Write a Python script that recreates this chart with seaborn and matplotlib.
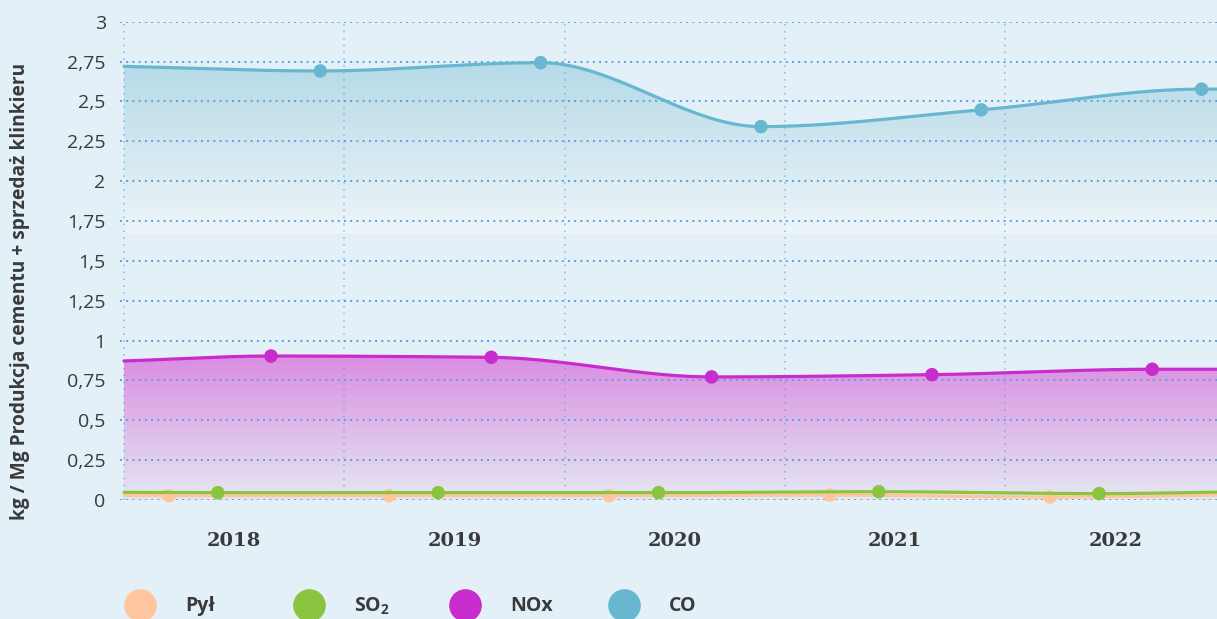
import numpy as np
import pandas as pd
import matplotlib
matplotlib.use("Agg")
import matplotlib.pyplot as plt
import seaborn as sns
from matplotlib.lines import Line2D

# ---------------- data ----------------
years = ["2018", "2019", "2020", "2021", "2022"]
series_names = ["Pył", "SO₂", "NOx", "CO"]
pyl = [0.027, 0.027, 0.027, 0.031, 0.019]
so2 = [0.046, 0.046, 0.046, 0.052, 0.040]
nox = [0.903, 0.895, 0.772, 0.786, 0.820]
co = [2.691, 2.743, 2.342, 2.447, 2.577]
# where each line meets the left / right edge of the visible window
pyl_edges = [0.028, 0.030]
so2_edges = [0.048, 0.049]
nox_edges = [0.872, 0.820]
co_edges = [2.720, 2.577]
y_ticks = [0, 0.25, 0.5, 0.75, 1, 1.25, 1.5, 1.75, 2, 2.25, 2.5, 2.75, 3]
y_tick_labels = ["0", "0,25", "0,5", "0,75", "1", "1,25", "1,5", "1,75",
                 "2", "2,25", "2,5", "2,75", "3"]
y_label = "kg / Mg Produkcja cementu + sprzedaż klinkieru"

# ---------------- style / layout ----------------
BG = "#e3f0f7"
TEXT = "#3a3a3a"
GRID = "#5d9fdb"
COLORS = {"Pył": "#ffc69e", "SO₂": "#8bc43f", "NOx": "#c92ccc", "CO": "#67b7d1"}
OFFSETS = {"Pył": 0.203, "SO₂": 0.426, "NOx": 0.667, "CO": 0.891}
X_MIN, X_MAX = -0.02, 4.961
W, H = 1217, 619

sns.set_theme(style="white")
plt.rcParams["font.family"] = ["Open Sans", "DejaVu Sans"]
plt.rcParams["mathtext.fontset"] = "custom"
plt.rcParams["mathtext.rm"] = "Open Sans"
plt.rcParams["mathtext.bf"] = "Open Sans:bold"


def pchip(xs, ys, xq):
    xs = np.asarray(xs, float)
    ys = np.asarray(ys, float)
    h = np.diff(xs)
    d = np.diff(ys) / h
    n = len(xs)
    m = np.zeros(n)
    m[0], m[-1] = d[0], d[-1]
    for k in range(1, n - 1):
        if d[k - 1] * d[k] <= 0:
            m[k] = 0.0
        else:
            w1 = 2 * h[k] + h[k - 1]
            w2 = h[k] + 2 * h[k - 1]
            m[k] = (w1 + w2) / (w1 / d[k - 1] + w2 / d[k])
    idx = np.clip(np.searchsorted(xs, xq) - 1, 0, n - 2)
    t = (xq - xs[idx]) / h[idx]
    h00 = 2 * t**3 - 3 * t**2 + 1
    h10 = t**3 - 2 * t**2 + t
    h01 = -2 * t**3 + 3 * t**2
    h11 = t**3 - t**2
    return (h00 * ys[idx] + h10 * h[idx] * m[idx]
            + h01 * ys[idx + 1] + h11 * h[idx] * m[idx + 1])


values = {"Pył": pyl, "SO₂": so2, "NOx": nox, "CO": co}
edges = {"Pył": pyl_edges, "SO₂": so2_edges, "NOx": nox_edges, "CO": co_edges}

curves = {}
points = {}
for name in series_names:
    px = np.arange(len(years)) + OFFSETS[name]
    py = np.asarray(values[name], float)
    ax_nodes = np.concatenate([[0.0], px, [X_MAX]])
    ay_nodes = np.concatenate([[edges[name][0]], py, [edges[name][1]]])
    xq = np.linspace(0.0, X_MAX, 800)
    curves[name] = (xq, pchip(ax_nodes, ay_nodes, xq))
    points[name] = (px, py)

fig = plt.figure(figsize=(W / 100, H / 100), dpi=100, facecolor=BG)
left_px = 124 + X_MIN * 220.3
ax = fig.add_axes([left_px / W, (H - 500) / H, (W - left_px) / W, (500 - 21.7) / H])
ax.set_facecolor(BG)


def gradient_fill(x, y, base, top_rgb, bot_rgb, zorder=1):
    poly = ax.fill_between(x, y, base, facecolor="none", edgecolor="none")
    top = max(y)
    n = 256
    tr = np.array(matplotlib.colors.to_rgb(top_rgb))
    br = np.array(matplotlib.colors.to_rgb(bot_rgb))
    t = np.linspace(0, 1, n)[:, None]
    arr = (tr * (1 - t) + br * t)[:, None, :]
    im = ax.imshow(arr, extent=[x.min(), x.max(), base, top], aspect="auto",
                   origin="upper", zorder=zorder, interpolation="bilinear")
    im.set_clip_path(poly.get_paths()[0], transform=ax.transData)


gradient_fill(*curves["CO"], 1.67, "#b5dae8", "#eef5f9")
gradient_fill(*curves["NOx"], 0.0, "#da8de2", "#e4e8f2")

for i, name in enumerate(series_names):
    cx, cy = curves[name]
    df_line = pd.DataFrame({"x": cx, "y": cy})
    sns.lineplot(data=df_line, x="x", y="y", color=COLORS[name], linewidth=2.3,
                 sort=False, estimator=None, ax=ax, zorder=3 + i * 0.1)
    px, py = points[name]
    df_pts = pd.DataFrame({"x": px, "y": py})
    sns.scatterplot(data=df_pts, x="x", y="y", color=COLORS[name], s=95,
                    edgecolor="none", ax=ax, zorder=3.05 + i * 0.1, clip_on=False)

ax.set_xlim(X_MIN, X_MAX)
ax.set_ylim(0, 3)
ax.set_xlabel("")
ax.set_ylabel("")
for s in ax.spines.values():
    s.set_visible(False)

ax.set_yticks(y_ticks)
ax.set_yticklabels(y_tick_labels, fontsize=14, color=TEXT)
ax.set_xticks(np.arange(len(years)) + 0.5)
ax.set_xticklabels(years, fontsize=14, color=TEXT, fontfamily="DejaVu Serif",
                   fontweight="bold")
ax.set_xticks(np.arange(len(years)), minor=True)
ax.tick_params(axis="both", which="both", length=0)
ax.tick_params(axis="y", pad=10)
ax.tick_params(axis="x", pad=23)
ax.set_axisbelow(False)
ax.yaxis.grid(True, color=GRID, linestyle=(0, (1, 2.2)), linewidth=1.4, zorder=2.5)
ax.xaxis.grid(False, which="major")
ax.xaxis.grid(True, which="minor", color=GRID, alpha=0.7,
              linestyle=(0, (1, 3.5)), linewidth=1.1)

fig.text(20 / W, 1 - 291 / H, y_label, rotation=90, ha="center", va="center",
         fontsize=13.8, fontweight="bold", color=TEXT)

# legend
legend_x = [140, 309, 465, 624]
legend_labels = ["Pył", r"SO$_{\mathbf{2}}$", "NOx", "CO"]
for name, lx, lab in zip(series_names, legend_x, legend_labels):
    fig.add_artist(Line2D([lx / W], [1 - 605 / H], marker="o", markersize=23.5,
                          color=COLORS[name], markeredgewidth=0, linestyle="none",
                          transform=fig.transFigure))
    fig.text((lx + 45) / W, 1 - 606 / H, lab, ha="left", va="center",
             fontsize=14, fontweight="bold", color=TEXT)

fig.savefig("out.png", dpi=100, facecolor=BG)
